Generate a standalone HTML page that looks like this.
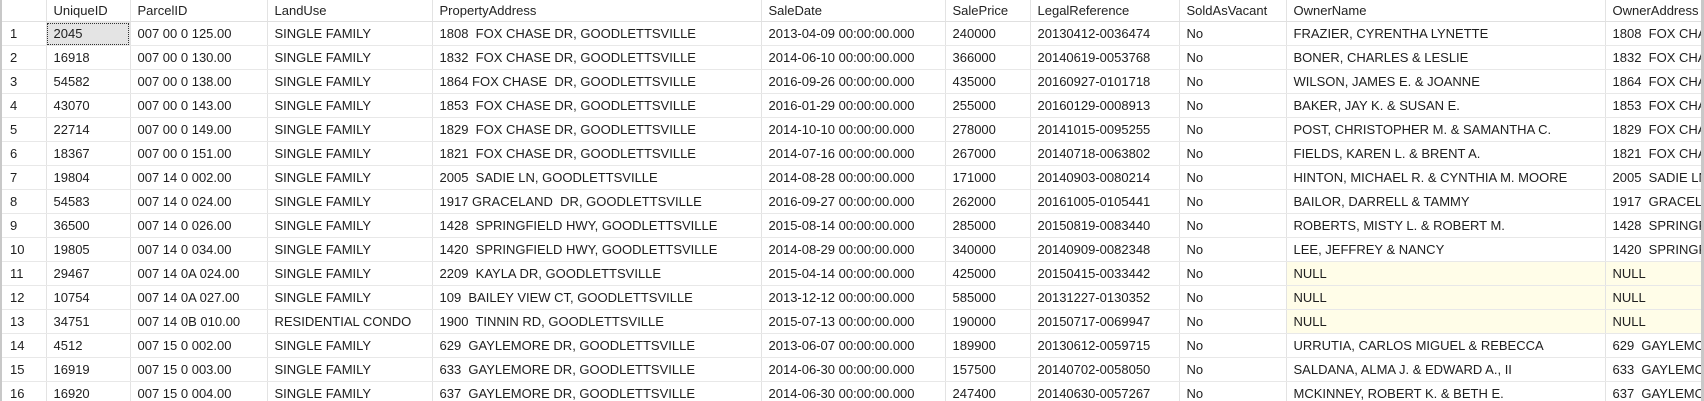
<!DOCTYPE html>
<html><head><meta charset="utf-8">
<style>
html,body{margin:0;padding:0;background:#fff;width:1704px;height:401px;overflow:hidden;position:relative}
#wrap{position:absolute;left:2px;top:0;width:1699px;height:401px;overflow:hidden}
table{border-collapse:collapse;table-layout:fixed;width:1803px;font-family:"Liberation Sans",sans-serif;font-size:13px;color:#1e1e1e;position:absolute;left:0;top:0}
td,th{height:23px;padding:0 0 0 7px;border-right:1px solid #e3e3e3;border-bottom:1px solid #e8e8e8;white-space:nowrap;overflow:hidden;text-align:left;font-weight:normal}
th{height:21px;border-bottom:1px solid #e0e0e0;color:#222}
td.n{padding-left:8px}
.sel{background:#e4e4e4;outline:1px dotted #333;outline-offset:-2px}
.nul{background:#fffde8}
#lb{position:absolute;left:0;top:0;width:2px;height:401px;background:#c8c8c8}
#rb{position:absolute;left:1701px;top:0;width:3px;height:401px;background:#c8c8c8}
</style></head><body>
<div id="lb"></div>
<div id="wrap">
<table>
<colgroup><col style="width:44px"><col style="width:84px"><col style="width:137px"><col style="width:165px"><col style="width:329px"><col style="width:184px"><col style="width:85px"><col style="width:149px"><col style="width:107px"><col style="width:319px"><col style="width:200px"></colgroup>
<thead><tr>
<th></th>
<th>UniqueID</th>
<th>ParcelID</th>
<th>LandUse</th>
<th>PropertyAddress</th>
<th>SaleDate</th>
<th>SalePrice</th>
<th>LegalReference</th>
<th>SoldAsVacant</th>
<th>OwnerName</th>
<th>OwnerAddress</th>
</tr></thead>
<tbody>
<tr><td class="n">1</td><td class="sel">2045</td><td>007 00 0 125.00</td><td>SINGLE FAMILY</td><td>1808&nbsp; FOX CHASE DR, GOODLETTSVILLE</td><td>2013-04-09 00:00:00.000</td><td>240000</td><td>20130412-0036474</td><td>No</td><td>FRAZIER, CYRENTHA LYNETTE</td><td>1808&nbsp; FOX CHASE DR</td></tr>
<tr><td class="n">2</td><td>16918</td><td>007 00 0 130.00</td><td>SINGLE FAMILY</td><td>1832&nbsp; FOX CHASE DR, GOODLETTSVILLE</td><td>2014-06-10 00:00:00.000</td><td>366000</td><td>20140619-0053768</td><td>No</td><td>BONER, CHARLES &amp; LESLIE</td><td>1832&nbsp; FOX CHASE DR</td></tr>
<tr><td class="n">3</td><td>54582</td><td>007 00 0 138.00</td><td>SINGLE FAMILY</td><td>1864 FOX CHASE&nbsp; DR, GOODLETTSVILLE</td><td>2016-09-26 00:00:00.000</td><td>435000</td><td>20160927-0101718</td><td>No</td><td>WILSON, JAMES E. &amp; JOANNE</td><td>1864&nbsp; FOX CHASE DR</td></tr>
<tr><td class="n">4</td><td>43070</td><td>007 00 0 143.00</td><td>SINGLE FAMILY</td><td>1853&nbsp; FOX CHASE DR, GOODLETTSVILLE</td><td>2016-01-29 00:00:00.000</td><td>255000</td><td>20160129-0008913</td><td>No</td><td>BAKER, JAY K. &amp; SUSAN E.</td><td>1853&nbsp; FOX CHASE DR</td></tr>
<tr><td class="n">5</td><td>22714</td><td>007 00 0 149.00</td><td>SINGLE FAMILY</td><td>1829&nbsp; FOX CHASE DR, GOODLETTSVILLE</td><td>2014-10-10 00:00:00.000</td><td>278000</td><td>20141015-0095255</td><td>No</td><td>POST, CHRISTOPHER M. &amp; SAMANTHA C.</td><td>1829&nbsp; FOX CHASE DR</td></tr>
<tr><td class="n">6</td><td>18367</td><td>007 00 0 151.00</td><td>SINGLE FAMILY</td><td>1821&nbsp; FOX CHASE DR, GOODLETTSVILLE</td><td>2014-07-16 00:00:00.000</td><td>267000</td><td>20140718-0063802</td><td>No</td><td>FIELDS, KAREN L. &amp; BRENT A.</td><td>1821&nbsp; FOX CHASE DR</td></tr>
<tr><td class="n">7</td><td>19804</td><td>007 14 0 002.00</td><td>SINGLE FAMILY</td><td>2005&nbsp; SADIE LN, GOODLETTSVILLE</td><td>2014-08-28 00:00:00.000</td><td>171000</td><td>20140903-0080214</td><td>No</td><td>HINTON, MICHAEL R. &amp; CYNTHIA M. MOORE</td><td>2005&nbsp; SADIE LN</td></tr>
<tr><td class="n">8</td><td>54583</td><td>007 14 0 024.00</td><td>SINGLE FAMILY</td><td>1917 GRACELAND&nbsp; DR, GOODLETTSVILLE</td><td>2016-09-27 00:00:00.000</td><td>262000</td><td>20161005-0105441</td><td>No</td><td>BAILOR, DARRELL &amp; TAMMY</td><td>1917&nbsp; GRACELAND DR</td></tr>
<tr><td class="n">9</td><td>36500</td><td>007 14 0 026.00</td><td>SINGLE FAMILY</td><td>1428&nbsp; SPRINGFIELD HWY, GOODLETTSVILLE</td><td>2015-08-14 00:00:00.000</td><td>285000</td><td>20150819-0083440</td><td>No</td><td>ROBERTS, MISTY L. &amp; ROBERT M.</td><td>1428&nbsp; SPRINGFIELD HWY</td></tr>
<tr><td class="n">10</td><td>19805</td><td>007 14 0 034.00</td><td>SINGLE FAMILY</td><td>1420&nbsp; SPRINGFIELD HWY, GOODLETTSVILLE</td><td>2014-08-29 00:00:00.000</td><td>340000</td><td>20140909-0082348</td><td>No</td><td>LEE, JEFFREY &amp; NANCY</td><td>1420&nbsp; SPRINGFIELD HWY</td></tr>
<tr><td class="n">11</td><td>29467</td><td>007 14 0A 024.00</td><td>SINGLE FAMILY</td><td>2209&nbsp; KAYLA DR, GOODLETTSVILLE</td><td>2015-04-14 00:00:00.000</td><td>425000</td><td>20150415-0033442</td><td>No</td><td class="nul">NULL</td><td class="nul">NULL</td></tr>
<tr><td class="n">12</td><td>10754</td><td>007 14 0A 027.00</td><td>SINGLE FAMILY</td><td>109&nbsp; BAILEY VIEW CT, GOODLETTSVILLE</td><td>2013-12-12 00:00:00.000</td><td>585000</td><td>20131227-0130352</td><td>No</td><td class="nul">NULL</td><td class="nul">NULL</td></tr>
<tr><td class="n">13</td><td>34751</td><td>007 14 0B 010.00</td><td>RESIDENTIAL CONDO</td><td>1900&nbsp; TINNIN RD, GOODLETTSVILLE</td><td>2015-07-13 00:00:00.000</td><td>190000</td><td>20150717-0069947</td><td>No</td><td class="nul">NULL</td><td class="nul">NULL</td></tr>
<tr><td class="n">14</td><td>4512</td><td>007 15 0 002.00</td><td>SINGLE FAMILY</td><td>629&nbsp; GAYLEMORE DR, GOODLETTSVILLE</td><td>2013-06-07 00:00:00.000</td><td>189900</td><td>20130612-0059715</td><td>No</td><td>URRUTIA, CARLOS MIGUEL &amp; REBECCA</td><td>629&nbsp; GAYLEMORE DR</td></tr>
<tr><td class="n">15</td><td>16919</td><td>007 15 0 003.00</td><td>SINGLE FAMILY</td><td>633&nbsp; GAYLEMORE DR, GOODLETTSVILLE</td><td>2014-06-30 00:00:00.000</td><td>157500</td><td>20140702-0058050</td><td>No</td><td>SALDANA, ALMA J. &amp; EDWARD A., II</td><td>633&nbsp; GAYLEMORE DR</td></tr>
<tr><td class="n">16</td><td>16920</td><td>007 15 0 004.00</td><td>SINGLE FAMILY</td><td>637&nbsp; GAYLEMORE DR, GOODLETTSVILLE</td><td>2014-06-30 00:00:00.000</td><td>247400</td><td>20140630-0057267</td><td>No</td><td>MCKINNEY, ROBERT K. &amp; BETH E.</td><td>637&nbsp; GAYLEMORE DR</td></tr>
</tbody></table>
</div>
<div id="rb"></div>
</body></html>
